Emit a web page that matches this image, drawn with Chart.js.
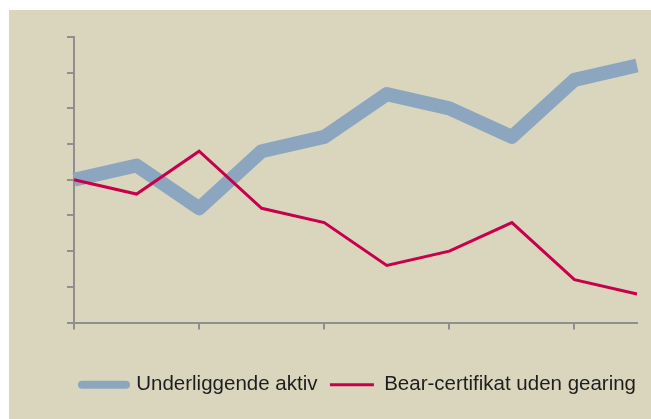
<!DOCTYPE html>
<html>
<head>
<meta charset="utf-8">
<script src="https://cdn.jsdelivr.net/npm/chart.js@4/dist/chart.umd.min.js"></script>
<style>
  body { margin: 0; background: #ffffff; }
  #panel { position: absolute; left: 9px; top: 10px; width: 642px; height: 409px; background: #dad5bd; }
  #myChart { position: absolute; left: 0; top: 0; }
</style>
</head>
<body>
<div id="panel"></div>
<canvas id="myChart" width="651" height="419"></canvas>
<script>
// periods along the x axis (no labels shown in the original)
const periods = ["1", "2", "3", "4", "5", "6", "7", "8", "9", "10"];
const underliggende = [4.0, 4.4, 3.2, 4.8, 5.2, 6.4, 6.0, 5.2, 6.8, 7.2];
const bearCertifikat = [4.0, 3.6, 4.8, 3.2, 2.8, 1.6, 2.0, 2.8, 1.2, 0.8];
const seriesNames = ["Underliggende aktiv", "Bear-certifikat uden gearing"];
const yMin = 0;
const yMax = 8;

const axisColor = "#8f8f8f";
const blue = "#8ca6bf";
const red = "#c8004b";

const graphics = document.getElementById("myChart");

const config = {
    type: "line",
    data: {
        labels: periods,
        datasets: [{
            label: seriesNames[0],
            data: underliggende,
            borderColor: blue,
            backgroundColor: blue,
            borderWidth: 14,
            borderJoinStyle: "round",
            borderCapStyle: "butt",
            pointRadius: 0,
            tension: 0,
            order: 1
        }, {
            label: seriesNames[1],
            data: bearCertifikat,
            borderColor: red,
            backgroundColor: red,
            borderWidth: 3,
            borderJoinStyle: "miter",
            pointRadius: 0,
            tension: 0,
            order: 0
        }]
    },
    options: {
        responsive: false,
        animation: false,
        devicePixelRatio: 1,
        layout: {
            padding: { left: 67, right: 0, top: 37, bottom: 14 }
        },
        plugins: {
            tooltip: { enabled: false },
            legend: {
                position: "bottom",
                labels: {
                    usePointStyle: true,
                    pointStyleWidth: 44,
                    padding: 12.5,
                    color: "#1e1e1e",
                    font: { family: "'Liberation Sans', Arial, sans-serif", size: 20.5 },
                    generateLabels: (chart) => chart.data.datasets.map((ds, i) => ({
                        text: ds.label,
                        fillStyle: ds.borderColor,
                        strokeStyle: ds.borderColor,
                        fontColor: "#1e1e1e",
                        lineWidth: i === 0 ? 8 : 3,
                        lineCap: i === 0 ? "round" : "butt",
                        pointStyle: "line",
                        hidden: false,
                        datasetIndex: i
                    }))
                }
            }
        },
        scales: {
            x: {
                ticks: { display: false },
                grid: {
                    drawOnChartArea: false,
                    tickLength: 7,
                    lineWidth: 2,
                    tickColor: (ctx) => ctx.index % 2 === 0 ? axisColor : "rgba(0,0,0,0)"
                },
                border: { color: axisColor, width: 2 },
                afterFit: (axis) => { axis.height = 39.5; }
            },
            y: {
                min: yMin,
                max: yMax,
                ticks: { display: false, stepSize: 1 },
                grid: {
                    drawOnChartArea: false,
                    tickLength: 7,
                    lineWidth: 2,
                    color: axisColor
                },
                border: { color: axisColor, width: 2 }
            },
            yRight: {
                position: "right",
                ticks: { display: false },
                grid: { display: false },
                border: { display: false },
                afterFit: (axis) => { axis.width = 14; }
            }
        }
    }
};

const myGraph = new Chart(graphics, config);
</script>
</body>
</html>
